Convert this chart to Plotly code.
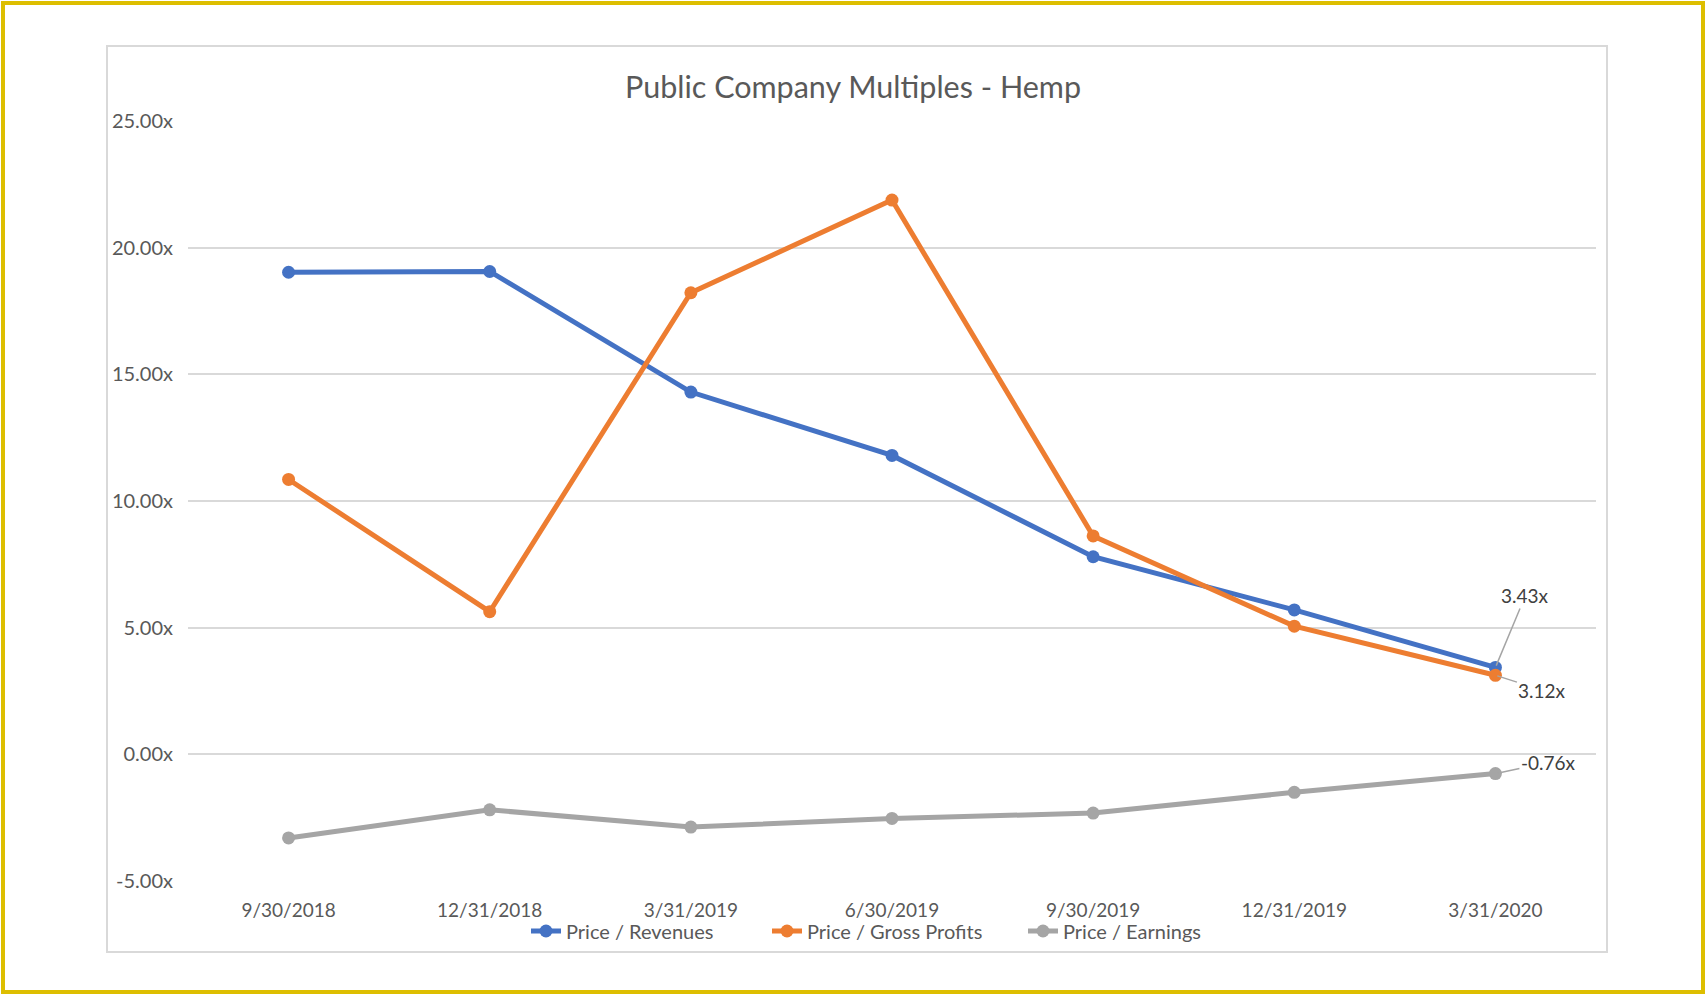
import plotly.graph_objects as go

categories = ["9/30/2018", "12/31/2018", "3/31/2019", "6/30/2019", "9/30/2019", "12/31/2019", "3/31/2020"]
price_revenues = [19.03, 19.06, 14.30, 11.80, 7.80, 5.70, 3.43]
price_gross_profits = [10.85, 5.63, 18.22, 21.88, 8.62, 5.06, 3.12]
price_earnings = [-3.30, -2.19, -2.87, -2.53, -2.32, -1.50, -0.76]
y_ticks = [-5, 0, 5, 10, 15, 20, 25]

FONT = "Lato, Calibri, Carlito, sans-serif"
TXT = "#595959"
W, H = 1706, 995
ML, MR, MT, MB = 188, 110, 121, 114
PW, PH = W - ML - MR, H - MT - MB

fig = go.Figure()
series = [
    ("Price / Revenues", price_revenues, "#4472C4", 196),
    ("Price / Gross Profits", price_gross_profits, "#ED7D31", 211),
    ("Price / Earnings", price_earnings, "#A5A5A5", 150),
]
for name, vals, col, lw in series:
    fig.add_trace(go.Scatter(
        x=categories, y=vals, name=name, mode="lines+markers",
        line=dict(color=col, width=5),
        marker=dict(color=col, size=13),
        legendwidth=lw,
    ))

# data labels for last point
last = categories[-1]
for val, ax, ay in [(price_revenues[-1], 30, -72), (price_gross_profits[-1], 47, 15), (price_earnings[-1], 53, -11)]:
    fig.add_annotation(
        x=last, y=val, text=f"{val:.2f}x", showarrow=True, arrowhead=0,
        arrowwidth=1.5, arrowcolor="#A5A5A5", ax=ax, ay=ay, standoff=2,
        font=dict(family=FONT, size=19, color="#404040"),
    )

def px_to_paper_x(px):
    return (px - ML) / PW

def px_to_paper_y(py):
    return (H - MB - py) / PH

# outer yellow frame
fig.add_shape(type="rect", xref="paper", yref="paper",
              x0=px_to_paper_x(3), x1=px_to_paper_x(1703),
              y0=px_to_paper_y(992), y1=px_to_paper_y(3),
              line=dict(color="#DDBE00", width=4), fillcolor="rgba(0,0,0,0)", layer="below")
# inner chart frame
fig.add_shape(type="rect", xref="paper", yref="paper",
              x0=px_to_paper_x(107), x1=px_to_paper_x(1607),
              y0=px_to_paper_y(952), y1=px_to_paper_y(46),
              line=dict(color="#D9D9D9", width=2), fillcolor="rgba(0,0,0,0)", layer="below")

fig.update_layout(
    width=W, height=H,
    margin=dict(l=ML, r=MR, t=MT, b=MB),
    paper_bgcolor="white", plot_bgcolor="white",
    font=dict(family=FONT, color=TXT, size=19),
    title=dict(text="Public Company Multiples - Hemp", x=0.5, xref="container", xanchor="center",
               y=1 - 87 / H, yref="container", yanchor="middle",
               font=dict(family=FONT, size=30.5, color=TXT)),
    showlegend=True,
    legend=dict(orientation="h", x=px_to_paper_x(872), xanchor="center",
                y=px_to_paper_y(931), yanchor="middle",
                font=dict(family=FONT, size=20, color=TXT),
                itemwidth=30, tracegroupgap=0, bgcolor="rgba(0,0,0,0)"),
    xaxis=dict(type="category", range=[-0.5, 6.5], showgrid=False, showline=False, zeroline=False,
               ticks="", tickfont=dict(family=FONT, size=19, color=TXT), ticklabelstandoff=16),
    yaxis=dict(range=[-5, 25], tickvals=y_ticks, ticktext=[f"{v:.2f}x" for v in y_ticks],
               showgrid=True, gridcolor="#D9D9D9", gridwidth=1.5,
               zeroline=True, zerolinecolor="#D9D9D9", zerolinewidth=1.5,
               showline=False, ticks="", ticklabelstandoff=14,
               tickfont=dict(family=FONT, size=20, color=TXT)),
)

fig.write_html("out.html", config={"displayModeBar": False},
               post_script="document.body.style.margin='0';document.body.style.overflow='hidden';")
